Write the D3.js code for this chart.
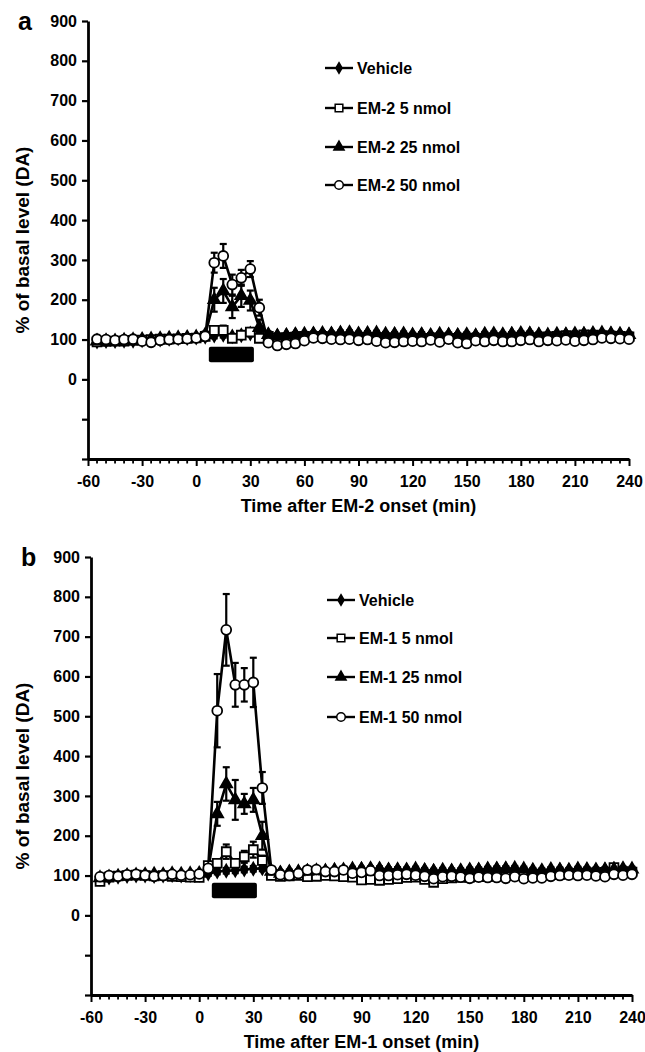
<!DOCTYPE html>
<html>
<head>
<meta charset="utf-8">
<script src="https://cdn.jsdelivr.net/npm/d3@7"></script>
<style>
  html, body { margin: 0; padding: 0; background: #fff; }
  svg { display: block; font-family: "Liberation Sans", Arial, Helvetica, sans-serif; }
</style>
</head>
<body>
<svg id="chart" width="645" height="1052"></svg>
<script>
// Sampling times (min after peptide onset)
const times = [-55,-50,-45,-40,-35,-30,-25,-20,-15,-10,-5,0,
  5,10,15,20,25,30,35,40,45,50,55,60,
  65,70,75,80,85,90,95,100,105,110,115,120,
  125,130,135,140,145,150,155,160,165,170,175,180,
  185,190,195,200,205,210,215,220,225,230,235,240];

const xTickLabels = [-60,-30,0,30,60,90,120,150,180,210,240];
const yTickLabels = [0,100,200,300,400,500,600,700,800,900];
const yTicksUnlabeled = [-100,-200];
const infusionWindow = [7, 32];     // min
const infusionBand = [43, 82];      // % level span of the infusion bar

// Panel a: EM-2
const vehicleA = [95,96,96,97,97,98,99,100,102,103,104,105,
  107,110,112,108,111,115,113,112,110,111,113,112,
  114,113,115,116,114,113,115,112,110,114,112,111,
  113,110,109,112,111,108,110,112,109,111,114,113,
  115,112,110,111,113,112,114,113,112,115,113,112];
const em2_5 = [94,95,96,96,98,99,100,101,101,102,103,104,
  108,123,123,103,111,119,103,108,104,105,106,108,
  107,108,106,107,105,106,104,103,105,104,103,104,
  102,103,105,103,101,104,102,103,105,104,103,106,
  104,105,107,108,110,109,112,111,110,109,108,107];
const em2_25 = [96,97,96,98,99,100,101,102,103,104,105,106,
  112,200,222,182,210,198,130,112,108,110,112,113,
  114,115,113,116,117,114,115,116,113,112,114,111,
  112,110,113,111,110,112,109,113,114,112,113,115,
  114,112,111,113,112,114,113,115,116,114,113,112];
const em2_50 = [101,100,98,100,101,96,93,98,100,101,102,104,
  108,293,310,238,255,277,180,92,85,88,90,97,
  104,103,101,100,101,98,100,96,92,93,95,96,
  95,99,94,101,92,90,97,95,98,95,95,98,
  100,95,98,97,99,96,98,100,104,103,102,101];

const semVehicleA = [4,4,4,4,4,4,4,4,4,4,4,5,
  6,7,7,6,7,7,6,6,5,5,5,5,
  5,5,5,6,5,5,5,5,5,5,5,5,
  5,5,5,5,5,5,5,5,5,5,5,5,
  5,5,5,5,5,5,5,5,5,5,5,5];
const semEm2_5 = [4,4,4,4,4,4,4,4,4,4,4,5,
  6,10,12,8,8,10,8,6,5,5,5,5,
  5,5,5,5,5,5,5,5,5,5,5,5,
  5,5,5,5,5,5,5,5,5,5,5,5,
  5,5,5,5,5,5,5,5,5,5,5,5];
const semEm2_25 = [4,4,4,4,4,4,4,4,4,4,4,5,
  8,30,30,28,28,25,20,8,6,6,6,6,
  6,6,6,6,6,6,6,6,6,6,6,6,
  6,6,6,6,6,6,6,6,6,6,6,6,
  6,6,6,6,6,6,6,6,6,6,6,6];
const semEm2_50 = [4,4,4,4,4,4,4,4,4,4,4,5,
  6,25,30,25,20,20,20,6,5,5,5,5,
  5,5,5,5,5,5,5,5,5,5,5,5,
  5,5,5,5,5,5,5,5,5,5,5,5,
  5,5,5,5,5,5,5,5,5,5,5,5];

// Panel b: EM-1
const vehicleB = [92,95,97,99,100,100,99,100,101,100,101,102,
  105,110,112,113,115,117,118,110,108,110,109,112,
  110,111,113,112,115,117,116,118,115,116,113,112,
  114,112,110,112,111,113,115,116,118,117,114,113,
  112,110,112,114,113,115,114,113,116,117,115,114];
const em1_5 = [85,96,99,100,101,100,99,100,98,97,96,95,
  125,131,160,131,147,165,138,100,98,99,100,97,
  98,100,99,97,96,89,90,88,90,92,95,96,
  90,83,92,94,95,96,97,98,99,100,101,102,
  103,104,102,103,104,105,106,107,108,120,110,109];
const em1_25 = [94,96,98,100,101,102,103,102,104,103,104,105,
  115,255,330,290,280,290,200,110,105,107,109,110,
  112,111,113,114,116,115,117,114,113,112,114,116,
  112,110,113,111,112,114,113,116,115,117,118,116,
  113,112,115,114,113,116,115,114,113,115,117,116];
const em1_50 = [97,100,98,102,103,101,98,100,103,101,102,104,
  118,514,717,579,579,585,320,114,102,100,105,114,
  115,110,110,114,106,108,112,100,100,102,103,101,
  98,92,97,98,96,93,96,95,95,93,97,92,
  94,94,98,100,101,100,101,99,97,103,101,103];

const semVehicleB = [4,4,4,4,4,4,4,4,4,4,4,5,
  6,7,7,7,7,7,7,6,5,5,5,5,
  5,5,5,5,5,5,5,5,5,5,5,5,
  5,5,5,5,5,5,5,5,5,5,5,5,
  5,5,5,5,5,5,5,5,5,5,5,5];
const semEm1_5 = [4,4,4,4,4,4,4,4,4,4,4,5,
  8,8,18,10,15,20,12,6,5,5,5,5,
  5,5,5,5,5,5,5,5,5,5,5,5,
  5,5,5,5,5,5,5,5,5,5,5,5,
  5,5,5,5,5,5,5,5,5,5,5,5];
const semEm1_25 = [4,4,4,4,4,4,4,4,4,4,4,5,
  8,30,42,50,25,30,35,8,6,6,6,6,
  6,6,6,6,6,6,6,6,6,6,6,6,
  6,6,6,6,6,6,6,6,6,6,6,6,
  6,6,6,6,6,6,6,6,6,6,6,6];
const semEm1_50 = [4,4,4,4,4,4,4,4,4,4,4,5,
  8,92,90,55,42,62,40,6,5,5,5,5,
  5,5,5,5,5,5,5,5,5,5,5,5,
  5,5,5,5,5,5,5,5,5,5,5,5,
  5,5,5,5,5,5,5,5,5,5,5,5];

const markerStyles = [
  { symbol: d3.symbolDiamond, size: 44, fill: "#000" },
  { symbol: d3.symbolSquare, size: 78, fill: "#fff" },
  { symbol: d3.symbolTriangle, size: 60, fill: "#000" },
  { symbol: d3.symbolCircle, size: 76, fill: "#fff" }
];

const panels = [
  {
    letter: "a", drug: "EM-2",
    left: 88, right: 629, top: 21, bottom: 459,
    legendX: 325, legendY: [68, 108, 147, 185],
    series: [vehicleA, em2_5, em2_25, em2_50],
    sem: [semVehicleA, semEm2_5, semEm2_25, semEm2_50]
  },
  {
    letter: "b", drug: "EM-1",
    left: 91, right: 632, top: 557, bottom: 995,
    legendX: 327, legendY: [600, 638, 677, 717],
    series: [vehicleB, em1_5, em1_25, em1_50],
    sem: [semVehicleB, semEm1_5, semEm1_25, semEm1_50]
  }
];

const svg = d3.select("#chart");
const FONT = "Liberation Sans, Arial, sans-serif";

panels.forEach(p => {
  const x = d3.scaleLinear().domain([-60, 240]).range([p.left, p.right]);
  const y = d3.scaleLinear().domain([-200, 900]).range([p.bottom, p.top]);
  const g = svg.append("g");
  const names = ["Vehicle", p.drug + " 5 nmol", p.drug + " 25 nmol", p.drug + " 50 nmol"];

  // Panel letter
  g.append("text").attr("x", p.left - 70).attr("y", p.top + 9)
    .attr("font-size", 25).attr("font-weight", "bold").text(p.letter);

  // Y axis
  const yAxis = d3.axisLeft(y)
    .tickValues(yTickLabels.concat(yTicksUnlabeled))
    .tickFormat(d => yTickLabels.includes(d) ? String(d) : "")
    .tickSize(6).tickPadding(5).tickSizeOuter(0);
  const ya = g.append("g").attr("transform", `translate(${p.left},0)`).call(yAxis);
  ya.select(".domain").attr("stroke-width", 2.8);
  ya.selectAll(".tick line").attr("stroke-width", 2.2);
  ya.selectAll(".tick text").attr("font-size", 16).attr("font-weight", "bold")
    .attr("font-family", FONT);

  // X axis: labelled ticks every 30 min, minor ticks every 5 min
  const xAxis = d3.axisBottom(x).tickValues(xTickLabels).tickSize(7)
    .tickFormat(d => String(d)).tickPadding(10).tickSizeOuter(0);
  const xa = g.append("g").attr("transform", `translate(0,${p.bottom})`).call(xAxis);
  xa.select(".domain").attr("stroke-width", 2.8);
  xa.selectAll(".tick line").attr("stroke-width", 2);
  xa.selectAll(".tick text").attr("font-size", 16).attr("font-weight", "bold")
    .attr("font-family", FONT);
  const minor = d3.range(-60, 241, 5).filter(t => !xTickLabels.includes(t));
  g.append("g").selectAll("line").data(minor).join("line")
    .attr("x1", d => x(d)).attr("x2", d => x(d))
    .attr("y1", p.bottom).attr("y2", p.bottom + 4.5)
    .attr("stroke", "#000").attr("stroke-width", 1.8);

  // Axis titles
  g.append("text")
    .attr("transform", `translate(22,${(p.top + p.bottom) / 2}) rotate(-90)`)
    .attr("text-anchor", "middle").attr("dominant-baseline", "central")
    .attr("font-size", 19).attr("font-weight", "bold")
    .text("% of basal level (DA)");
  g.append("text")
    .attr("x", (p.left + p.right) / 2).attr("y", p.bottom + 47)
    .attr("text-anchor", "middle").attr("dominant-baseline", "central")
    .attr("font-size", 18).attr("font-weight", "bold")
    .text(`Time after ${p.drug} onset (min)`);

  // Infusion bar
  g.append("rect")
    .attr("x", x(infusionWindow[0])).attr("width", x(infusionWindow[1]) - x(infusionWindow[0]))
    .attr("y", y(infusionBand[1])).attr("height", y(infusionBand[0]) - y(infusionBand[1]))
    .attr("rx", 2).attr("fill", "#000");

  const line = d3.line().x((d, i) => x(times[i])).y(d => y(d));

  // Lines and error bars
  p.series.forEach((vals, s) => {
    g.append("path").datum(vals).attr("d", line)
      .attr("fill", "none").attr("stroke", "#000").attr("stroke-width", 2.6)
      .attr("stroke-linejoin", "round");
    const eb = g.append("g").attr("stroke", "#000").attr("stroke-width", 2.2);
    vals.forEach((v, i) => {
      const e = p.sem[s][i];
      const cx = x(times[i]);
      eb.append("line").attr("x1", cx).attr("x2", cx).attr("y1", y(v - e)).attr("y2", y(v + e));
      [v - e, v + e].forEach(c => {
        eb.append("line").attr("x1", cx - 3.5).attr("x2", cx + 3.5).attr("y1", y(c)).attr("y2", y(c));
      });
    });
  });

  // Markers
  p.series.forEach((vals, s) => {
    const m = markerStyles[s];
    g.append("g").selectAll("path").data(vals).join("path")
      .attr("d", d3.symbol().type(m.symbol).size(m.size))
      .attr("transform", (d, i) => `translate(${x(times[i])},${y(d)})`)
      .attr("fill", m.fill).attr("stroke", "#000").attr("stroke-width", 1.8);
  });

  // Legend
  const lg = g.append("g");
  names.forEach((name, s) => {
    const ly = p.legendY[s];
    const m = markerStyles[s];
    lg.append("line").attr("x1", p.legendX).attr("x2", p.legendX + 28)
      .attr("y1", ly).attr("y2", ly).attr("stroke", "#000").attr("stroke-width", 2.4);
    lg.append("path").attr("d", d3.symbol().type(m.symbol).size(m.size * 0.75))
      .attr("transform", `translate(${p.legendX + 14},${ly})`)
      .attr("fill", m.fill).attr("stroke", "#000").attr("stroke-width", 1.5);
    lg.append("text").attr("x", p.legendX + 32).attr("y", ly)
      .attr("dominant-baseline", "central")
      .attr("font-size", 16).attr("font-weight", "bold").text(name);
  });
});
</script>
</body>
</html>
